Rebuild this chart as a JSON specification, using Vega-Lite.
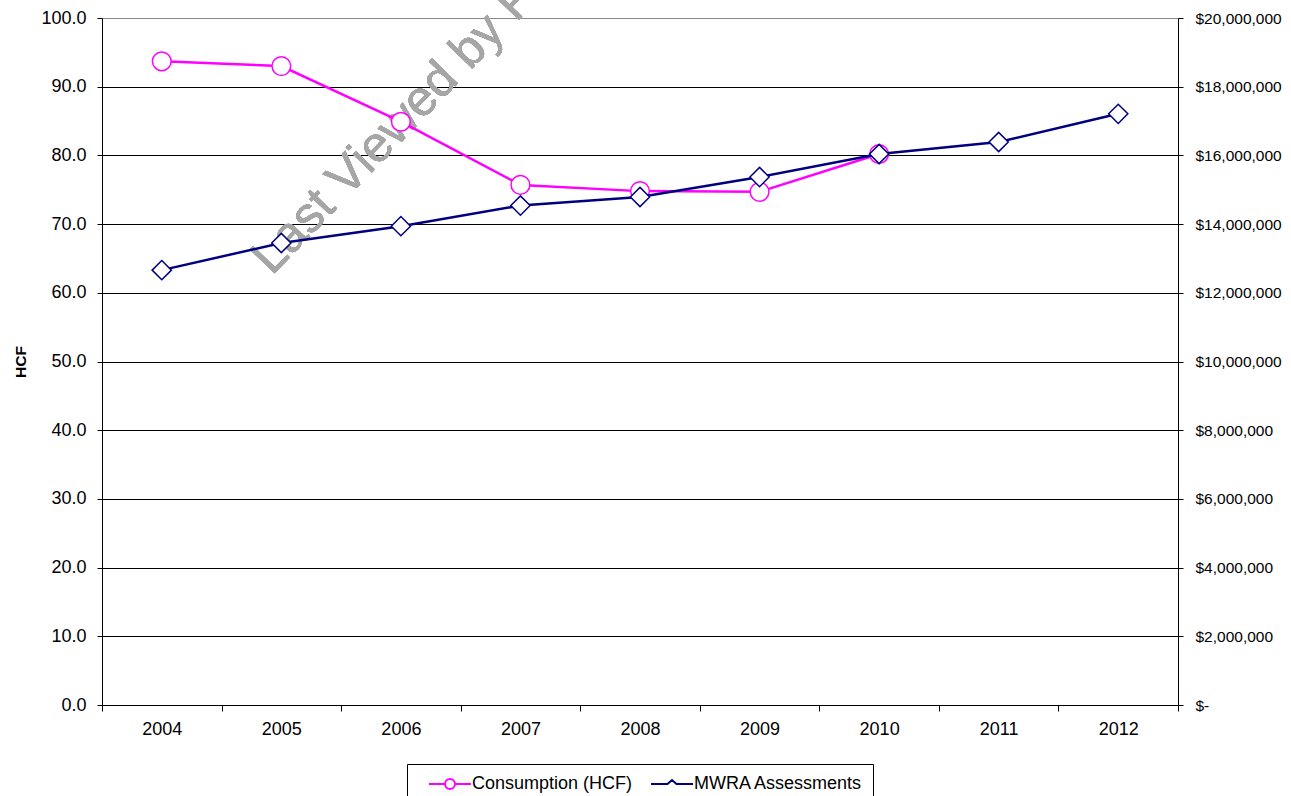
{
  "$schema": "https://vega.github.io/schema/vega-lite/v6.json",
  "autosize": {"type": "none"},
  "padding": {"left": 102, "top": 18, "right": 113, "bottom": 91},
  "width": 1076,
  "height": 687,
  "background": "white",
  "config": {
    "view": {"stroke": null},
    "font": "Liberation Sans",
    "axis": {
      "domainColor": "#000000",
      "tickColor": "#000000",
      "labelColor": "#000000",
      "titleColor": "#000000",
      "labelFont": "Liberation Sans",
      "titleFont": "Liberation Sans",
      "domainWidth": 1,
      "tickWidth": 1
    }
  },
  "data": {
    "values": [
      {"year": "2004", "hcf": 93.7, "mwra": 12660000},
      {"year": "2005", "hcf": 93.0, "mwra": 13450000},
      {"year": "2006", "hcf": 84.9, "mwra": 13940000},
      {"year": "2007", "hcf": 75.7, "mwra": 14540000},
      {"year": "2008", "hcf": 74.8, "mwra": 14790000},
      {"year": "2009", "hcf": 74.7, "mwra": 15370000},
      {"year": "2010", "hcf": 80.2, "mwra": 16040000},
      {"year": "2011", "hcf": null, "mwra": 16390000},
      {"year": "2012", "hcf": null, "mwra": 17210000}
    ]
  },
  "encoding": {
    "x": {
      "field": "year",
      "type": "ordinal",
      "bandPosition": 0.5,
      "scale": {"type": "band", "paddingInner": 0, "paddingOuter": 0},
      "axis": {
        "title": null,
        "labelAngle": 0,
        "labelFontSize": 18,
        "tickBand": "extent",
        "tickSize": 6,
        "labelPadding": 9,
        "grid": false
      }
    }
  },
  "layer": [
    {
      "layer": [
        {
          "mark": {
            "type": "text",
            "text": "Last Viewed by F",
            "angle": -46,
            "align": "left",
            "baseline": "alphabetic",
            "fontSize": 50,
            "font": "Liberation Sans",
            "color": "#A6A6A6"
          },
          "encoding": {
            "x": {"datum": "2005", "type": "ordinal", "bandPosition": 0.42},
            "y": {"datum": 62.4, "type": "quantitative"}
          }
        },
        {
          "mark": {"type": "line", "strokeWidth": 2.5},
          "encoding": {
            "y": {
              "field": "hcf",
              "type": "quantitative",
              "scale": {"domain": [0, 100], "nice": false, "zero": true},
              "axis": {
                "title": "HCF",
                "titleFontSize": 15.5,
                "titleFontWeight": "bold",
                "titleX": -82,
                "titleY": 343.5,
                "titleAngle": -90,
                "titleAlign": "center",
                "titleBaseline": "middle",
                "values": [0, 10, 20, 30, 40, 50, 60, 70, 80, 90, 100],
                "format": ".1f",
                "labelFontSize": 18,
                "tickSize": 5,
                "labelPadding": 11,
                "grid": true,
                "gridColor": {"condition": {"test": "datum.value == 100", "value": "#888888"}, "value": "#000000"},
                "gridWidth": 1
              }
            },
            "color": {
              "datum": "Consumption (HCF)",
              "type": "nominal",
              "scale": {"domain": ["Consumption (HCF)", "MWRA Assessments"], "range": ["#FF00FF", "#000080"]},
              "legend": {
                "title": null,
                "orient": "none",
                "legendX": 305,
                "legendY": 746,
                "direction": "horizontal",
                "strokeColor": "#000000",
                "fillColor": "#FFFFFF",
                "padding": 9,
                "labelFont": "Liberation Sans",
                "labelFontSize": 18,
                "labelColor": "#000000",
                "labelLimit": 400,
                "symbolSize": 400,
                "symbolStrokeWidth": 2,
                "symbolFillColor": "#FFFFFF",
                "symbolOffset": 23,
                "labelOffset": 11,
                "columnPadding": 5,
                "symbolType": "M-2.1,0L-0.5,0M0.5,0L2.1,0M-0.5,0A0.5,0.5 0 1,1 0.5,0A0.5,0.5 0 1,1 -0.5,0Z",
                "encode": {
                  "symbols": {
                    "update": {
                      "shape": {"signal": "datum.value === 'Consumption (HCF)' ? 'M-2.1,0L-0.5,0M0.5,0L2.1,0M-0.5,0A0.5,0.5 0 1,1 0.5,0A0.5,0.5 0 1,1 -0.5,0Z' : 'M-2.1,0L-0.45,0L0,-0.4L0.45,0L2.1,0'"},
                      "fill": {"value": "#FFFFFF"},
                      "strokeWidth": {"value": 2}
                    }
                  }
                }
              }
            }
          }
        },
        {
          "mark": {"type": "point", "shape": "circle", "size": 350, "filled": true, "fill": "#FFFFFF", "stroke": "#FF00FF", "strokeWidth": 1.5, "opacity": 1},
          "encoding": {
            "y": {"field": "hcf", "type": "quantitative"}
          }
        }
      ]
    },
    {
      "layer": [
        {
          "mark": {"type": "line", "strokeWidth": 2.5},
          "encoding": {
            "y": {
              "field": "mwra",
              "type": "quantitative",
              "scale": {"domain": [0, 20000000], "nice": false, "zero": true},
              "axis": {
                "orient": "right",
                "title": null,
                "values": [0, 2000000, 4000000, 6000000, 8000000, 10000000, 12000000, 14000000, 16000000, 18000000, 20000000],
                "labelExpr": "datum.value == 0 ? '$-' : '$' + format(datum.value, ',')",
                "labelFontSize": 15.5,
                "tickSize": 5,
                "labelPadding": 12,
                "grid": false
              }
            },
            "color": {"datum": "MWRA Assessments", "type": "nominal"}
          }
        },
        {
          "mark": {"type": "point", "shape": "diamond", "size": 370, "filled": true, "fill": "#FFFFFF", "stroke": "#000080", "strokeWidth": 1.5, "opacity": 1},
          "encoding": {
            "y": {"field": "mwra", "type": "quantitative"}
          }
        }
      ]
    }
  ],
  "resolve": {"scale": {"y": "independent"}}
}
